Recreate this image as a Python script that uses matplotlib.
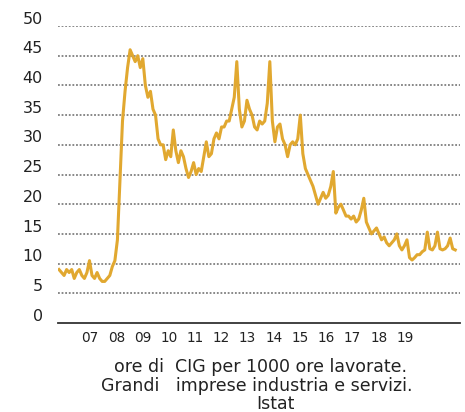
import numpy as np
import matplotlib.pyplot as plt
from matplotlib.transforms import ScaledTranslation

# 
# Ore di CIG per 1000 ore lavorate, grandi imprese (monthly, 2007-2019)
# 
cig = [
    9, 8.5, 8, 9, 8.5, 9, 7.5, 8.5, 9, 8, 7.5, 8.5,                  # 2007
    10.5, 8, 7.5, 8.5, 7.5, 7, 7, 7.5, 8, 9.5, 10.5, 14,             # 2008
    24, 34, 39, 43, 46, 45, 44, 45, 43, 44.5, 40, 38,                # 2009
    39, 36, 35, 31, 30, 30, 27.5, 29, 28, 32.5, 29, 27,              # 2010
    29, 28, 26, 24.5, 25.5, 27, 25, 26, 25.5, 28, 30.5, 28,          # 2011
    28.5, 31, 32, 31, 33, 33, 34, 34, 36, 38, 44, 36,                # 2012
    33, 34, 37.5, 36, 35, 33, 32.5, 34, 33.5, 34, 37, 44,            # 2013
    34, 30.5, 33, 33.5, 31, 30, 28, 30, 30.5, 30, 31, 35,            # 2014
    28.5, 26, 25, 24, 23, 21.5, 20, 21, 22, 21, 21.5, 23,            # 2015
    25.5, 18.5, 19.5, 20, 19, 18, 18, 17.5, 18, 17, 17.5, 19,        # 2016
    21, 17, 16, 15, 15.5, 16, 15, 14, 14.5, 13.5, 13, 13.5,          # 2017
    14, 15, 13, 12.3, 13, 14, 11, 10.6, 11, 11.5, 11.5, 12,          # 2018
    12.3, 15.3, 12.5, 12.3, 13, 15.3, 12.5, 12.3, 12.5, 13, 14.3, 12.5,  # 2019
    12.3,
]
year_labels = ['07', '08', '09', '10', '11', '12', '13', '14', '15', '16', '17', '18', '19']
y_ticks = [0, 5, 10, 15, 20, 25, 30, 35, 40, 45, 50]
caption = ['ore di  CIG per 1000 ore lavorate.',
           'Grandi   imprese industria e servizi.',
           'Istat']

W, H = 465, 412
fig = plt.figure(figsize=(W / 100, H / 100), dpi=100)
ax = fig.add_axes([58 / W, 1 - 323 / H, 402 / W, 297 / H])

months = np.arange(len(cig))
px_per_month = 2.54
ax.plot(months, cig, color='#E1A830', lw=2.2, solid_joinstyle='round')

ax.set_xlim(-1 / px_per_month, 401 / px_per_month)
ax.set_ylim(0, 50)

# Dotted horizontal grid
for v in y_ticks[1:]:
    ax.axhline(v, color='#7f7f7f', lw=1.3, ls=(0, (1, 1)), zorder=0)

for s in ['top', 'right', 'left']:
    ax.spines[s].set_visible(False)
ax.spines['bottom'].set_color('#333333')
ax.spines['bottom'].set_linewidth(1.3)

ax.set_yticks(y_ticks)
ax.set_yticklabels([str(v) for v in y_ticks])
ax.tick_params(axis='y', length=0, pad=11, labelsize=11.5, labelcolor='#222222')
for lab in ax.get_yticklabels():
    lab.set_transform(lab.get_transform() + ScaledTranslation(0, 6 / 72, fig.dpi_scale_trans))

# Year labels are spaced a bit tighter than the data itself
tick_pos = [(31 + i * 26.25) / px_per_month for i in range(len(year_labels))]
ax.set_xticks(tick_pos)
ax.set_xticklabels(year_labels)
ax.tick_params(axis='x', length=0, pad=6, labelsize=9.8, labelcolor='#222222')

# Caption under the chart
for txt, cx, cy in zip(caption, [260, 257, 275], [367, 386, 404]):
    fig.text(cx / W, 1 - cy / H, txt, ha='center', va='center', fontsize=12.5, color='#222222')

plt.savefig('out.png', dpi=100)
plt.close()
